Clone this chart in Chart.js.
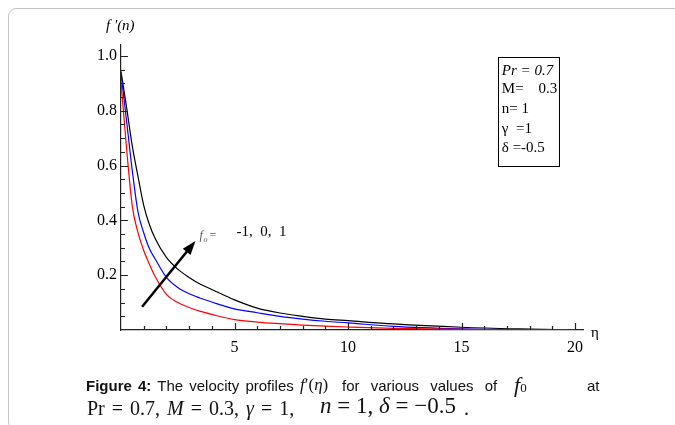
<!DOCTYPE html>
<html>
<head>
<meta charset="utf-8">
<script src="https://cdn.jsdelivr.net/npm/chart.js@4.4.1/dist/chart.umd.min.js"></script>
<style>
  html, body { margin: 0; padding: 0; background: #fff; }
  #wrap { position: relative; width: 675px; height: 425px; overflow: hidden; }
  #frame { position: absolute; left: 8px; top: 8px; width: 720px; height: 420px;
           border: 1px solid #c4c4c4; border-radius: 8px; }
  #c { position: absolute; left: 0; top: 0; }
  .cap { position: absolute; white-space: nowrap; color: #111; }
  .sans { font: 15px "Liberation Sans", Arial, sans-serif; }
  .ser { font-family: "Liberation Serif", "Times New Roman", serif; }
  .it { font-style: italic; }
</style>
</head>
<body>
<div id="wrap">
  <div id="frame"></div>
  <canvas id="c" width="675" height="425"></canvas>
  <!-- caption, line 1 -->
  <div class="cap sans" style="left:86px; top:377px; word-spacing:2px;"><b>Figure 4:</b> The velocity profiles</div>
  <div class="cap ser" style="left:300px; top:375px; font-size:17px;"><span class="it">f</span>′(<span class="it">η</span>)</div>
  <div class="cap sans" style="left:342px; top:377px; word-spacing:7px;">for various values of</div>
  <div class="cap ser" style="left:514px; top:372px; font-size:22px;"><span class="it">f</span><span style="font-size:13px">0</span></div>
  <div class="cap sans" style="left:587px; top:377px;">at</div>
  <!-- caption, line 2 -->
  <div class="cap ser" style="left:87px; top:397px; font-size:20px; word-spacing:2px;">Pr = 0.7, <i>M</i> = 0.3, <i>γ</i> = 1,</div>
  <div class="cap ser" style="left:320px; top:393px; font-size:23px;"><i>n</i> = 1, <i>δ</i> = −0.5</div>
  <div class="cap ser" style="left:464px; top:397px; font-size:20px;">.</div>
</div>
<script>
// eta grid and velocity profiles f'(eta) for f0 = -1, 0, 1
var eta     = [0, 0.25, 0.5, 0.75, 1, 1.25, 1.5, 2, 2.5, 3, 3.5, 4, 5, 6, 7, 8, 9, 10, 12, 15, 17.5, 20];
var fpMinus = [0.906, 0.658, 0.45, 0.355, 0.29, 0.24, 0.196, 0.13, 0.1, 0.082, 0.068, 0.057, 0.038, 0.029, 0.023, 0.018, 0.014, 0.011, 0.006, 0.002, 0.0005, 0];
var fpZero  = [0.937, 0.76, 0.58, 0.43, 0.355, 0.297, 0.26, 0.192, 0.155, 0.132, 0.116, 0.102, 0.077, 0.063, 0.05, 0.04, 0.032, 0.026, 0.013, 0.004, 0.001, 0];
var fpPlus  = [0.943, 0.81, 0.67, 0.56, 0.455, 0.385, 0.335, 0.265, 0.222, 0.192, 0.167, 0.148, 0.11, 0.08, 0.062, 0.05, 0.04, 0.034, 0.022, 0.01, 0.004, 0];

var xTickVals   = [5, 10, 15, 20];
var xTickLabels = ['5', '10', '15', '20'];
var yTickVals   = [0.2, 0.4, 0.6, 0.8, 1.0];
var yTickLabels = ['0.2', '0.4', '0.6', '0.8', '1.0'];

var legendLines = ['Pr = 0.7', 'M=    0.3', 'n= 1', 'γ  =1', 'δ =-0.5'];

function pts(ys) {
  return eta.map(function (x, i) { return { x: x, y: ys[i] }; });
}

var serif = '"Liberation Serif", "Times New Roman", serif';

// inner tick marks, arrow, labels and parameter box
var extras = {
  id: 'extras',
  afterDatasetsDraw: function (chart) {
    var ctx = chart.ctx, xs = chart.scales.x, ys = chart.scales.y;
    var L = chart.chartArea.left, B = chart.chartArea.bottom;
    ctx.save();
    ctx.strokeStyle = '#222';
    ctx.lineWidth = 1.2;
    ctx.beginPath();
    for (var i = 1; i <= 20; i++) {
      var px = Math.round(xs.getPixelForValue(i)) + 0.5;
      var len = (i % 5 === 0) ? 7 : 4;
      ctx.moveTo(px, B); ctx.lineTo(px, B - len);
    }
    for (var j = 1; j <= 20; j++) {
      var py = Math.round(ys.getPixelForValue(j * 0.05)) + 0.5;
      var ln = (j % 4 === 0) ? 7 : 4;
      ctx.moveTo(L, py); ctx.lineTo(L + ln, py);
    }
    ctx.stroke();

    // arrow
    var x0 = xs.getPixelForValue(0.93), y0 = ys.getPixelForValue(0.085);
    var x1 = xs.getPixelForValue(3.28), y1 = ys.getPixelForValue(0.325);
    var ang = Math.atan2(y1 - y0, x1 - x0);
    ctx.strokeStyle = '#000';
    ctx.lineWidth = 2.5;
    ctx.beginPath();
    ctx.moveTo(x0, y0);
    ctx.lineTo(x1 - 10 * Math.cos(ang), y1 - 10 * Math.sin(ang));
    ctx.stroke();
    ctx.fillStyle = '#000';
    ctx.beginPath();
    ctx.moveTo(x1, y1);
    ctx.lineTo(x1 - 14 * Math.cos(ang) + 5 * Math.sin(ang), y1 - 14 * Math.sin(ang) - 5 * Math.cos(ang));
    ctx.lineTo(x1 - 14 * Math.cos(ang) - 5 * Math.sin(ang), y1 - 14 * Math.sin(ang) + 5 * Math.cos(ang));
    ctx.closePath();
    ctx.fill();

    // f0 annotation
    ctx.textBaseline = 'middle';
    ctx.textAlign = 'left';
    ctx.fillStyle = '#555';
    ctx.font = 'italic 12px ' + serif;
    var ax = xs.getPixelForValue(3.46), ay = ys.getPixelForValue(0.345);
    ctx.fillText('f', ax, ay);
    ctx.font = 'italic 8px ' + serif;
    ctx.fillText('o', ax + 4, ay + 4);
    ctx.font = '12px ' + serif;
    ctx.fillText('=', ax + 10, ay);
    ctx.fillStyle = '#000';
    ctx.font = '15px ' + serif;
    ctx.fillText('-1,  0,  1', xs.getPixelForValue(5.09), ys.getPixelForValue(0.358));

    // axis titles
    ctx.font = 'italic 15px ' + serif;
    ctx.fillText("f '(n)", L - 15, 26);
    ctx.font = '15px ' + serif;
    ctx.fillText('η', chart.chartArea.right + 8, B + 3);

    // parameter box
    var bx0 = xs.getPixelForValue(16.62), bx1 = xs.getPixelForValue(19.3);
    var by0 = ys.getPixelForValue(0.998), by1 = ys.getPixelForValue(0.602);
    ctx.strokeStyle = '#000';
    ctx.lineWidth = 1;
    ctx.strokeRect(Math.round(bx0) + 0.5, Math.round(by0) + 0.5, Math.round(bx1 - bx0), Math.round(by1 - by0));
    var rows = [70.7, 89, 109, 129, 148];
    legendLines.forEach(function (t, k) {
      ctx.font = (k === 0 ? 'italic ' : '') + '15px ' + serif;
      ctx.fillText(t, bx0 + 3.5, rows[k]);
    });
    ctx.restore();
  }
};

var chart = new Chart(document.getElementById('c').getContext('2d'), {
  type: 'line',
  data: {
    datasets: [
      { label: 'f0 = -1', data: pts(fpMinus), borderColor: '#ff0000' },
      { label: 'f0 = 0',  data: pts(fpZero),  borderColor: '#0000ff' },
      { label: 'f0 = 1',  data: pts(fpPlus),  borderColor: '#000000' }
    ]
  },
  options: {
    responsive: false,
    animation: false,
    devicePixelRatio: 1,
    layout: { padding: { left: 0, top: 45, right: 92, bottom: 55 } },
    elements: {
      line: { borderWidth: 1.2, cubicInterpolationMode: 'monotone', fill: false },
      point: { radius: 0 }
    },
    plugins: { legend: { display: false }, tooltip: { enabled: false } },
    scales: {
      x: {
        type: 'linear', min: 0, max: 20.35,
        grid: { display: false, drawTicks: false },
        border: { display: true, color: '#222', width: 1.2 },
        ticks: { padding: 8, color: '#000', font: { family: serif, size: 16 },
                 callback: function (v) { var k = xTickVals.indexOf(v); return k < 0 ? '' : xTickLabels[k]; } },
        afterBuildTicks: function (s) { s.ticks = xTickVals.map(function (v) { return { value: v }; }); },
        afterFit: function (s) { s.height = 40; }
      },
      y: {
        type: 'linear', min: 0, max: 1.04,
        grid: { display: false, drawTicks: false },
        border: { display: true, color: '#222', width: 1.2 },
        ticks: { padding: 4, color: '#000', font: { family: serif, size: 16 },
                 callback: function (v) { var k = yTickVals.indexOf(v); return k < 0 ? '' : yTickLabels[k]; } },
        afterBuildTicks: function (s) { s.ticks = yTickVals.map(function (v) { return { value: v }; }); },
        afterFit: function (s) { s.width = 121; }
      }
    }
  },
  plugins: [extras]
});
</script>
</body>
</html>
